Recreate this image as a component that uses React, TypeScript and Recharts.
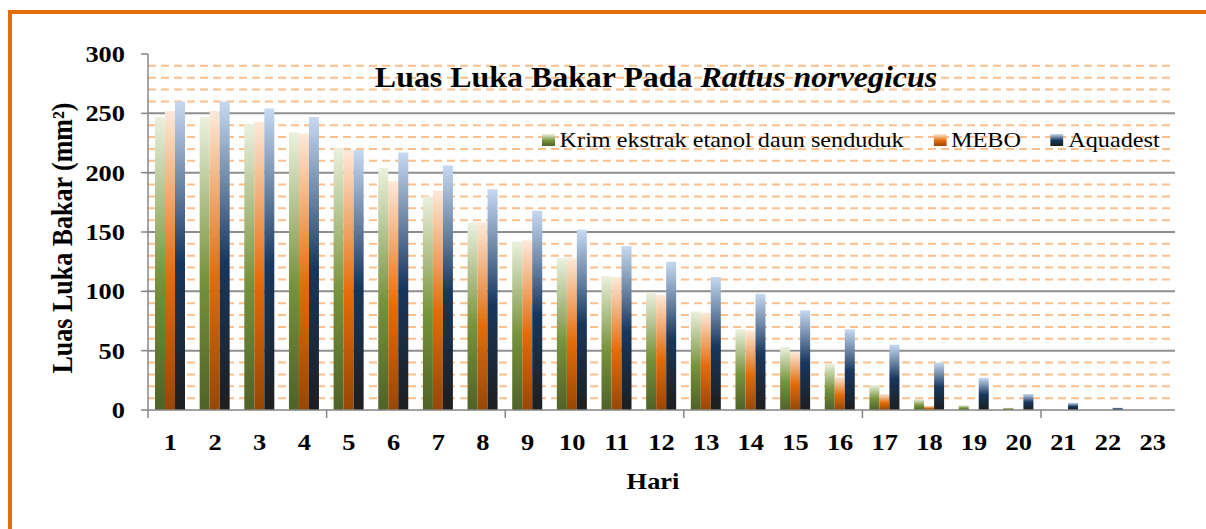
import React from "react";
import { BarChart, Bar, XAxis, YAxis, CartesianGrid, Legend } from "recharts";

const HARI = ["1","2","3","4","5","6","7","8","9","10","11","12","13","14","15","16","17","18","19","20","21","22","23"];
const KRIM = [247, 247, 241, 234, 221, 204, 180, 158, 142, 128, 113, 99, 83, 68, 53, 39, 21, 9, 4, 2, 0, 0, 0];
const MEBO = [252, 252, 243, 233, 219, 193, 185, 158, 143, 128, 112, 97, 82, 67, 49, 28, 13.5, 3.5, 0, 0, 0, 0, 0];
const AQUADEST = [260, 260, 254, 247, 219, 217, 206, 186, 168, 152, 138, 125, 112, 98, 84, 68, 55, 40, 27, 13.5, 6, 2, 0];

const Y_TICKS = [0, 50, 100, 150, 200, 250, 300];
const MAJOR_LINES = [50, 100, 150, 200, 250];
const MINOR_LINES = [
  10, 20, 30, 40, 60, 70, 80, 90, 110, 120, 130, 140, 160, 170, 180, 190,
  210, 220, 230, 240, 260, 270, 280, 290,
];

const SERIES = [
  { key: "krim", name: "Krim ekstrak etanol daun senduduk", grad: "gGreen" },
  { key: "mebo", name: "MEBO", grad: "gOrange" },
  { key: "aquadest", name: "Aquadest", grad: "gBlue" },
];

const data = HARI.map((h, i) => ({
  hari: h,
  krim: KRIM[i],
  mebo: MEBO[i],
  aquadest: AQUADEST[i],
}));

const W = 1206;
const H = 529;
const PLOT_LEFT = 148;
const PLOT_RIGHT = 1175;
const STRETCH = 1.1;
const FONT = "'Liberation Serif', 'Times New Roman', serif";
const AXIS_GREY = "#868686";

const BAND = (PLOT_RIGHT - PLOT_LEFT) / HARI.length;

function Gradients() {
  return (
    <>
      <linearGradient id="gGreen" x1="0" y1="0" x2="0" y2="1">
        <stop offset="0%" stopColor="#ebf1de" />
        <stop offset="55%" stopColor="#77933c" />
        <stop offset="100%" stopColor="#4f6228" />
      </linearGradient>
      <linearGradient id="gOrange" x1="0" y1="0" x2="0" y2="1">
        <stop offset="0%" stopColor="#fde9d9" />
        <stop offset="55%" stopColor="#e46c0a" />
        <stop offset="100%" stopColor="#974706" />
      </linearGradient>
      <linearGradient id="gBlue" x1="0" y1="0" x2="0" y2="1">
        <stop offset="0%" stopColor="#c6d9f1" />
        <stop offset="52%" stopColor="#17375e" />
        <stop offset="100%" stopColor="#1e1e1e" />
      </linearGradient>
    </>
  );
}

function XTick(props: any) {
  const { x, y, payload } = props;
  const idx = props.index ?? payload.index;
  return (
    <g>
      {idx % 4 === 0 && (
        <line x1={x - BAND / 2} x2={x - BAND / 2} y1={y} y2={y + 8} stroke={AXIS_GREY} strokeWidth={1.5} />
      )}
      <text
        transform={`translate(${x},${y + 40}) scale(${STRETCH},1)`}
        textAnchor="middle"
        fontFamily={FONT}
        fontWeight="bold"
        fontSize={24}
        fill="#000"
      >
        {payload.value}
      </text>
    </g>
  );
}

function YTick(props: any) {
  const { x, y, payload } = props;
  return (
    <text
      transform={`translate(${x},${y}) scale(${STRETCH},1)`}
      textAnchor="end"
      dy="0.34em"
      fontFamily={FONT}
      fontWeight="bold"
      fontSize={24}
      fill="#000"
    >
      {payload.value}
    </text>
  );
}

function YTitle() {
  return (
    <text
      transform={`translate(62,238) scale(${STRETCH},1) rotate(-90)`}
      textAnchor="middle"
      dy="0.34em"
      fontFamily={FONT}
      fontWeight="bold"
      fontSize={26}
      fill="#000"
    >
      Luas Luka Bakar (mm²)
    </text>
  );
}

function LegendContent() {
  return (
    <div
      style={{
        display: "flex",
        alignItems: "center",
        whiteSpace: "nowrap",
        transform: `scaleX(${STRETCH})`,
        transformOrigin: "left center",
        fontFamily: FONT,
        fontSize: 22,
        color: "#000",
      }}
    >
      {SERIES.map((s, i) => (
        <div key={s.key} style={{ display: "flex", alignItems: "center", marginRight: i < SERIES.length - 1 ? 27 : 0 }}>
          <svg width={12} height={12} style={{ marginRight: 4 }}>
            <rect x={0} y={0} width={12} height={12} fill={`url(#${s.grad})`} />
          </svg>
          <span>{s.name}</span>
        </div>
      ))}
    </div>
  );
}

export default function App() {
  return (
    <div style={{ position: "absolute", left: 0, top: 0, width: W, height: H, overflow: "hidden", background: "#fff" }}>
      <div
        style={{
          position: "absolute",
          left: 8,
          top: 10,
          width: W + 20,
          height: H + 40,
          border: "4px solid #e46c0a",
          boxSizing: "border-box",
        }}
      />
      <div style={{ position: "absolute", left: 0, top: 0 }}>
        <BarChart
          width={W}
          height={H}
          data={data}
          margin={{ top: 54, right: W - PLOT_RIGHT, bottom: 59, left: 0 }}
          barGap={0}
          barSize={10}
        >
          <defs>
            <Gradients />
          </defs>
          <CartesianGrid
            vertical={false}
            horizontalValues={MINOR_LINES}
            stroke="#fcc08e"
            strokeWidth={2}
            strokeDasharray="8 5"
          />
          <CartesianGrid vertical={false} horizontalValues={MAJOR_LINES} stroke="#8e8e8e" strokeWidth={2} />
          <XAxis
            dataKey="hari"
            interval={0}
            height={60}
            tickLine={false}
            tickSize={0}
            tickMargin={0}
            axisLine={{ stroke: AXIS_GREY, strokeWidth: 1.5 }}
            tick={<XTick />}
          />
          <YAxis
            width={PLOT_LEFT}
            domain={[0, 300]}
            ticks={Y_TICKS}
            interval={0}
            tickSize={7}
            tickMargin={16}
            axisLine={{ stroke: AXIS_GREY, strokeWidth: 1.5 }}
            tickLine={{ stroke: AXIS_GREY, strokeWidth: 1.5 }}
            tick={<YTick />}
          />
          {SERIES.map((s) => (
            <Bar key={s.key} dataKey={s.key} name={s.name} fill={`url(#${s.grad})`} isAnimationActive={false} />
          ))}
          <Legend
            layout="vertical"
            align="center"
            verticalAlign="middle"
            wrapperStyle={{ left: 542, top: 127, width: 700 }}
            content={<LegendContent />}
          />
          <YTitle />
        </BarChart>
      </div>
      <div
        style={{
          position: "absolute",
          left: 656,
          top: 77,
          transform: `translate(-50%, -50%) scaleX(${STRETCH})`,
          whiteSpace: "nowrap",
          fontFamily: FONT,
          fontWeight: "bold",
          fontSize: 29,
          color: "#000",
        }}
      >
        Luas Luka Bakar Pada <i>Rattus norvegicus</i>
      </div>
      <div
        style={{
          position: "absolute",
          left: 653,
          top: 481,
          transform: `translate(-50%, -50%) scaleX(${STRETCH})`,
          whiteSpace: "nowrap",
          fontFamily: FONT,
          fontWeight: "bold",
          fontSize: 24,
          color: "#000",
        }}
      >
        Hari
      </div>
    </div>
  );
}
